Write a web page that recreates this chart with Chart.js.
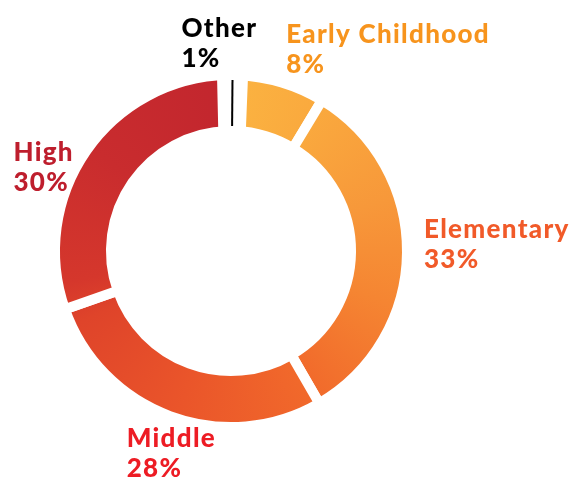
<!DOCTYPE html>
<html>
<head>
<meta charset="utf-8">
<script src="https://cdn.jsdelivr.net/npm/chart.js@4"></script>
<style>
  html, body { margin: 0; padding: 0; background: #fff; }
</style>
</head>
<body>
<canvas id="myChart" width="579" height="478"></canvas>
<script>
// school level shares, clockwise from the top
const categories = ['Early Childhood', 'Elementary', 'Middle', 'High', 'Other'];
const shares = [8, 33, 28, 30, 1];
const labelColors = ['#F7941D', '#F15A29', '#ED1C24', '#BE1E2D', '#000000'];

const OTHER = categories.indexOf('Other');

function ringGradient(context) {
    const chart = context.chart;
    const area = chart.chartArea;
    if (!area || !chart.ctx.createConicGradient) return '#F7941D';
    const cx = (area.left + area.right) / 2;
    const cy = (area.top + area.bottom) / 2;
    const g = chart.ctx.createConicGradient(-Math.PI / 2, cx, cy);
    g.addColorStop(0, '#FBB341');
    g.addColorStop(0.08, '#FAAA3E');
    g.addColorStop(0.2, '#F7983A');
    g.addColorStop(0.3, '#F58532');
    g.addColorStop(0.42, '#F1692B');
    g.addColorStop(0.55, '#EA552A');
    g.addColorStop(0.68, '#DF442A');
    g.addColorStop(0.72, '#D5372C');
    g.addColorStop(0.85, '#C92C2E');
    g.addColorStop(1, '#C2262E');
    return g;
}

// thin black tick for "Other" + the outside labels
const ringLabels = {
    id: 'ringLabels',
    afterDatasetsDraw(chart, args, opts) {
        const ctx = chart.ctx;
        const arcs = chart.getDatasetMeta(0).data;
        ctx.save();

        const o = arcs[OTHER];
        const mid = (o.startAngle + o.endAngle) / 2;
        ctx.strokeStyle = '#000';
        ctx.lineWidth = 2;
        ctx.beginPath();
        ctx.moveTo(o.x + Math.cos(mid) * (o.innerRadius + 5), o.y + Math.sin(mid) * (o.innerRadius + 5));
        ctx.lineTo(o.x + Math.cos(mid) * (o.outerRadius - 5), o.y + Math.sin(mid) * (o.outerRadius - 5));
        ctx.stroke();

        ctx.font = opts.font;
        if ('letterSpacing' in ctx) ctx.letterSpacing = opts.spacing;
        ctx.textAlign = 'left';
        ctx.textBaseline = 'alphabetic';
        arcs.forEach((arc, i) => {
            const a = (arc.startAngle + arc.endAngle) / 2;
            const r = arc.outerRadius - 5;
            const nudge = opts.nudge[i];
            const x = arc.x + Math.cos(a) * r + nudge[0];
            const y = arc.y + Math.sin(a) * r + nudge[1];
            ctx.fillStyle = labelColors[i];
            ctx.fillText(categories[i], x, y);
            ctx.fillText(shares[i] + '%', x, y + opts.lineGap);
        });
        ctx.restore();
    }
};

const ctx = document.getElementById('myChart').getContext('2d');
new Chart(ctx, {
    type: 'doughnut',
    data: {
        labels: categories,
        datasets: [{
            data: shares,
            backgroundColor: ringGradient,
            borderColor: '#ffffff',
            borderWidth: c => c.dataIndex === OTHER ? 20 : 10,
            hoverOffset: 0
        }]
    },
    options: {
        responsive: false,
        animation: false,
        rotation: 2.3,
        radius: 176,
        cutout: '68.2%',
        layout: { padding: { left: 0, right: 117, top: 24, bottom: 0 } },
        plugins: {
            legend: { display: false },
            tooltip: { enabled: false },
            ringLabels: {
                font: '900 26px Lato',
                spacing: '1.3px',
                lineGap: 30,
                nudge: [[6, -44], [22, -14], [-45, 36], [-77, 7], [-51, -43]]
            }
        }
    },
    plugins: [ringLabels]
});
</script>
</body>
</html>
